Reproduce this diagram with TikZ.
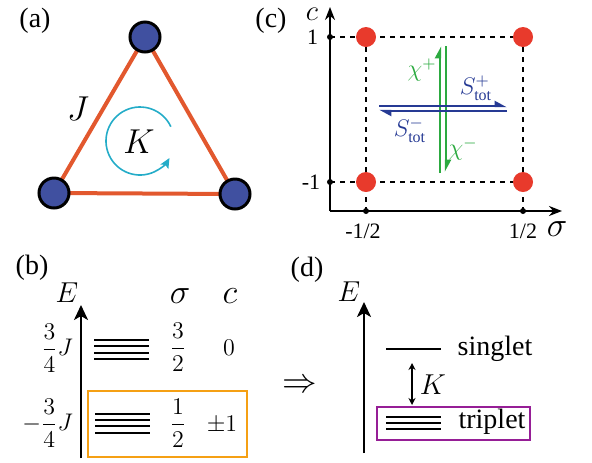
\documentclass[tikz,border=0pt]{standalone}
\usepackage{amsmath}
\usepackage{fontspec}
\setmainfont{Liberation Serif}
\usetikzlibrary{arrows.meta,positioning,backgrounds}

\definecolor{bondred}{RGB}{226,88,46}
\definecolor{siteblue}{RGB}{64,80,160}
\definecolor{loopcyan}{RGB}{36,172,200}
\definecolor{dotred}{RGB}{232,58,44}
\definecolor{chigreen}{RGB}{44,170,64}
\definecolor{spinblue}{RGB}{38,58,148}
\definecolor{boxorange}{RGB}{245,160,20}
\definecolor{boxpurple}{RGB}{150,30,150}

\begin{document}
\begin{tikzpicture}[
    x=0.5pt, y=-0.5pt,
    panel/.style={font=\fontsize{14}{16}\selectfont},
    site/.style={circle, draw=black, line width=1.5pt, fill=siteblue,
                 minimum size=15pt, inner sep=0pt},
    bond/.style={draw=bondred, line width=2pt},
    fluxarrow/.style={-{Stealth[length=5pt, width=4.5pt, inset=1pt]}, loopcyan, line width=0.8pt},
    tickdot/.style={circle, fill=black, minimum size=3pt, inner sep=0pt},
    cornerdot/.style={circle, fill=dotred, minimum size=10pt, inner sep=0pt},
    guide/.style={dash pattern=on 2.5pt off 2.5pt, line width=0.6pt},
    axisc/.style={-{Stealth[length=6.5pt, width=5pt]}, line width=1pt},
    axisbd/.style={-{Stealth[length=7.5pt, width=7pt, inset=2pt]}, line width=1.2pt},
    chiarrow/.style={-{Triangle[harpoon, length=5pt, width=5pt]}, chigreen, line width=1.2pt},
    spinarrow/.style={-{Triangle[harpoon, length=5pt, width=5pt]}, spinblue, line width=1.2pt},
    ticklabel/.style={font=\fontsize{11}{13}\selectfont, inner sep=1pt},
    enlevel/.style={line width=1pt},
    gaparrow/.style={{Stealth[length=3.5pt, width=3.5pt]}-{Stealth[length=3.5pt, width=3.5pt]}, line width=0.8pt},
    levelbox/.style={rectangle, line width=1pt, inner sep=0pt}
]
    \useasboundingbox (0,0) rectangle (592,462);

    % (a) triangle
    \node[panel] (labela) at (35,21) {(a)};
    \node[site] (top) at (145,37) {};
    \node[site] (left) at (54,193) {};
    \node[site] (right) at (235,194) {};
    \begin{scope}[on background layer]
        \draw[bond] (top.center) -- (left.center);
        \draw[bond] (left.center) -- (right.center);
        \draw[bond] (right.center) -- (top.center);
    \end{scope}
    \node[font=\fontsize{17.28}{20}\selectfont] (J) at (78,109) {$J$};
    \coordinate (kloop) at (140,141);
    \draw[fluxarrow] ([shift={(-25:34)}]kloop) arc[start angle=-25, end angle=-330, radius=34];
    \node[font=\fontsize{16}{18}\selectfont] (K) at (139,142) {$K$};

    % (c) sigma-c plane
    \node[panel] (labelc) at (271,21) {(c)};
    \coordinate (origin) at (330,211);
    \coordinate (ctop) at (330,7);
    \coordinate (sright) at (562,211);
    \draw[axisc] (origin) -- (ctop);
    \draw[axisc] (origin) -- (sright);
    \node[tickdot] (cplus) at (330,37) {};
    \node[tickdot] (cminus) at (330,182) {};
    \node[tickdot] (sminus) at (366,211) {};
    \node[tickdot] (splus) at (523,211) {};
    \node[cornerdot] (dotnw) at (366,37) {};
    \node[cornerdot] (dotne) at (523,37) {};
    \node[cornerdot] (dotsw) at (366,182) {};
    \node[cornerdot] (dotse) at (523,182) {};
    \begin{scope}[on background layer]
        \draw[guide] (cplus.center) -- (dotne.center);
        \draw[guide] (cminus.center) -- (dotse.center);
        \draw[guide] (dotnw.center) -- (sminus.center);
        \draw[guide] (dotne.center) -- (splus.center);
    \end{scope}
    \node[ticklabel, left=3pt of cplus] {1};
    \node[ticklabel, left=2pt of cminus] {-1};
    \node[ticklabel, below=3.5pt of sminus, xshift=-1.5pt] {-1/2};
    \node[ticklabel, below=3.5pt of splus] {1/2};
    \node[font=\fontsize{14.4}{17}\selectfont, inner sep=0pt] (caxis) at (312,14) {$c$};
    \node[font=\fontsize{16}{18}\selectfont] (saxis) at (557,229) {$\sigma$};

    \coordinate (chiupfrom) at (440,173);
    \coordinate (chiupto) at (440,46);
    \coordinate (chidnfrom) at (446,46);
    \coordinate (chidnto) at (446,172);
    \draw[chiarrow] (chiupfrom) -- (chiupto);
    \draw[chiarrow] (chidnfrom) -- (chidnto);
    \coordinate (spupfrom) at (379,106);
    \coordinate (spupto) at (507,106);
    \coordinate (spdnfrom) at (507,111);
    \coordinate (spdnto) at (379,111);
    \draw[spinarrow] (spupfrom) -- (spupto);
    \draw[spinarrow] (spdnfrom) -- (spdnto);
    \node[font=\fontsize{12}{14}\selectfont, text=chigreen] (chiplus) at (422,70) {$\chi^{+}$};
    \node[font=\fontsize{12}{14}\selectfont, text=chigreen] (chiminus) at (463,149) {$\chi^{-}$};
    \node[font=\fontsize{12}{14}\selectfont, text=spinblue, inner sep=0pt] (splusl) at (476,88) {$S^{+}_{\mathrm{tot}}$};
    \node[font=\fontsize{12}{14}\selectfont, text=spinblue, inner sep=0pt] (sminusl) at (410,130) {$S^{-}_{\mathrm{tot}}$};

    % (b) spectrum with J
    \node[panel] (labelb) at (32,268) {(b)};
    \coordinate (ebbot) at (81,458);
    \coordinate (ebtop) at (81,305);
    \draw[axisbd] (ebbot) -- (ebtop);
    \node[font=\fontsize{14.4}{17}\selectfont] (eb) at (67,293) {$E$};
    \node[font=\fontsize{16}{18}\selectfont] (sighead) at (180,296) {$\sigma$};
    \node[font=\fontsize{16}{18}\selectfont] (chead) at (230,296) {$c$};
    \foreach \y in {340,346,353,359}
        \draw[enlevel] (94,\y) -- (149,\y);
    \foreach \y in {414,420,426,433}
        \draw[enlevel] (95,\y) -- (150,\y);
    \begin{scope}[font=\fontsize{12}{14}\selectfont]
        \node (eup) at (57,348) {$\dfrac{3}{4}J$};
        \node (edown) at (47.5,423) {$-\dfrac{3}{4}J$};
        \node (sigup) at (178,347) {$\dfrac{3}{2}$};
        \node (cup) at (229,348) {$0$};
        \node (sigdown) at (178,423) {$\dfrac{1}{2}$};
        \node (cdown) at (222,425) {$\pm1$};
    \end{scope}
    \node[levelbox, draw=boxorange, minimum width=79.5pt, minimum height=33pt] (lowbox) at (167.5,424) {};

    \node[font=\fontsize{17}{19}\selectfont] (implies) at (300,386) {$\Rightarrow$};

    % (d) effective spectrum
    \node[panel] (labeld) at (307,270) {(d)};
    \coordinate (edbot) at (364,453);
    \coordinate (edtop) at (364,302);
    \draw[axisbd] (edbot) -- (edtop);
    \node[font=\fontsize{15}{17}\selectfont] (ed) at (349,292) {$E$};
    \draw[enlevel] (386,349) -- (441,349);
    \node[panel] (singlet) at (495,349) {singlet};
    \foreach \y in {417,423,429}
        \draw[enlevel] (386,\y) -- (441,\y);
    \node[panel] (triplet) at (492,422) {triplet};
    \coordinate (gaptop) at (412,363);
    \coordinate (gapbot) at (412,405);
    \draw[gaparrow] (gaptop) -- (gapbot);
    \node[font=\fontsize{15}{17}\selectfont] (kgap) at (433,385) {$K$};
    \node[levelbox, draw=boxpurple, minimum width=76.5pt, minimum height=16.5pt] (tripbox) at (453.5,423.5) {};
\end{tikzpicture}
\end{document}
